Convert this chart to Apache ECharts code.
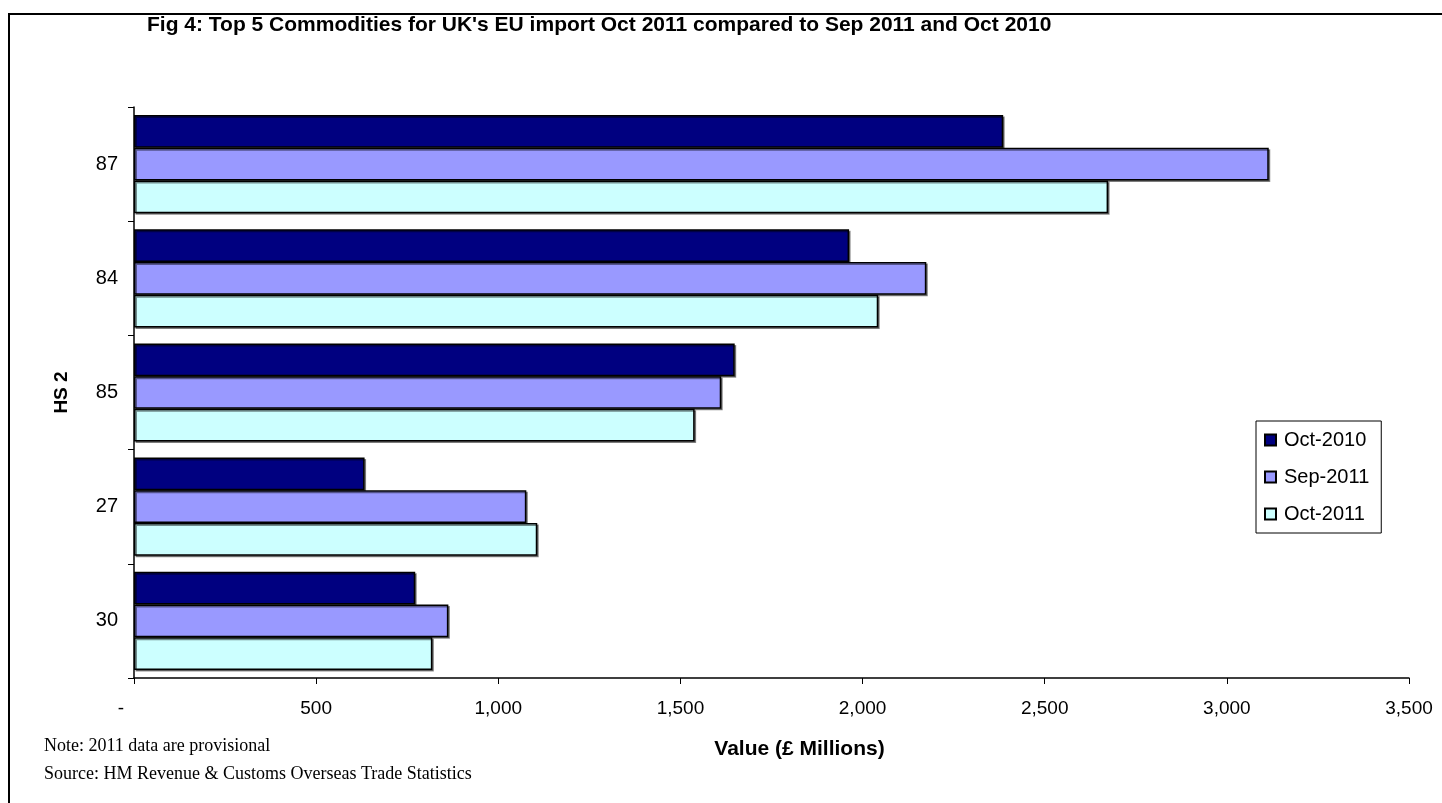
<!DOCTYPE html>
<html>
<head>
<meta charset="utf-8">
<title>Top 5 Commodities for UK's EU import</title>
<script src="https://cdn.jsdelivr.net/npm/echarts@6/dist/echarts.min.js"></script>
<style>
  html, body { margin: 0; padding: 0; background: #ffffff; }
  #chart { width: 1442px; height: 803px; }
</style>
</head>
<body>
<div id="chart"></div>
<script>
// HS2 commodity codes, top to bottom
const categories = ['87', '84', '85', '27', '30'];

// Import values, £ millions
const oct2010 = [2386, 1963, 1649, 633, 772];
const sep2011 = [3115, 2175, 1612, 1077, 863];
const oct2011 = [2674, 2043, 1539, 1107, 819];

const seriesNames = ['Oct-2010', 'Sep-2011', 'Oct-2011'];
const xTicks = { min: 0, max: 3500, interval: 500 };

const titleText = "Fig 4: Top 5 Commodities for UK's EU import Oct 2011 compared to Sep 2011 and Oct 2010";
const noteText = 'Note: 2011 data are provisional';
const sourceText = 'Source: HM Revenue & Customs Overseas Trade Statistics';

const colors = ['#000080', '#9999FF', '#CCFFFF'];
const sans = 'Liberation Sans, Arial, sans-serif';
const serif = 'Liberation Serif, Times New Roman, serif';

const barStyle = (color) => ({
  color: color,
  borderColor: '#000000',
  borderWidth: 1.5,
  shadowColor: 'rgba(0,0,0,0.45)',
  shadowOffsetX: 1.5,
  shadowOffsetY: 1.5,
  shadowBlur: 0
});

const chart = echarts.init(document.getElementById('chart'), null, { renderer: 'canvas' });

chart.setOption({
  animation: false,
  backgroundColor: '#ffffff',
  title: {
    text: titleText,
    left: 147,
    top: 15,
    padding: 0,
    textStyle: { fontFamily: sans, fontWeight: 'bold', fontSize: 21, color: '#000000' }
  },
  legend: {
    orient: 'vertical',
    left: 1256,
    top: 421,
    data: seriesNames,
    icon: 'rect',
    itemWidth: 11,
    itemHeight: 11,
    itemGap: 17,
    padding: [9, 12, 9, 8],
    borderColor: '#000000',
    borderWidth: 1,
    backgroundColor: '#ffffff',
    textStyle: { fontFamily: sans, fontSize: 20, color: '#000000', padding: [0, 0, 0, 3] }
  },
  grid: { left: 134, right: 33, top: 107, bottom: 125, containLabel: false },
  xAxis: {
    type: 'value',
    min: xTicks.min,
    max: xTicks.max,
    interval: xTicks.interval,
    name: 'Value (£ Millions)',
    nameLocation: 'middle',
    nameGap: 61,
    nameTextStyle: {
      fontFamily: sans, fontWeight: 'bold', fontSize: 21, color: '#000000',
      padding: [0, 0, 0, 56]
    },
    axisLine: { show: true, lineStyle: { color: '#000000', width: 1.5 } },
    axisTick: { show: true, length: 6, lineStyle: { color: '#000000', width: 1 } },
    splitLine: { show: false },
    axisLabel: {
      margin: 21,
      fontFamily: sans,
      fontSize: 19,
      color: '#000000',
      formatter: (v) => v === 0 ? '{dash|-}' : v.toLocaleString('en-GB'),
      rich: { dash: { fontFamily: sans, fontSize: 19, color: '#000000', padding: [0, 26, 0, 0] } }
    }
  },
  yAxis: {
    type: 'category',
    inverse: true,
    data: categories,
    name: 'HS 2',
    nameLocation: 'middle',
    nameRotate: 90,
    nameGap: 63,
    nameTextStyle: { fontFamily: sans, fontWeight: 'bold', fontSize: 19, color: '#000000' },
    axisLine: { show: true, lineStyle: { color: '#000000', width: 1.5 } },
    axisTick: { show: true, length: 6, lineStyle: { color: '#000000', width: 1 } },
    axisLabel: { margin: 16, fontFamily: sans, fontSize: 20, color: '#000000' }
  },
  series: [
    { name: seriesNames[0], type: 'bar', data: oct2010, barGap: '0%', barCategoryGap: '14%', itemStyle: barStyle(colors[0]) },
    { name: seriesNames[1], type: 'bar', data: sep2011, barGap: '0%', barCategoryGap: '14%', itemStyle: barStyle(colors[1]) },
    { name: seriesNames[2], type: 'bar', data: oct2011, barGap: '0%', barCategoryGap: '14%', itemStyle: barStyle(colors[2]) }
  ],
  graphic: [
    {
      type: 'rect',
      shape: { x: 9, y: 14, width: 1600, height: 1000 },
      style: { fill: 'none', stroke: '#000000', lineWidth: 2 },
      silent: true
    },
    {
      type: 'text',
      left: 44,
      top: 737,
      style: { text: noteText, font: '18px ' + serif, fill: '#000000' }
    },
    {
      type: 'text',
      left: 44,
      top: 765,
      style: { text: sourceText, font: '18px ' + serif, fill: '#000000' }
    }
  ]
});
</script>
</body>
</html>
